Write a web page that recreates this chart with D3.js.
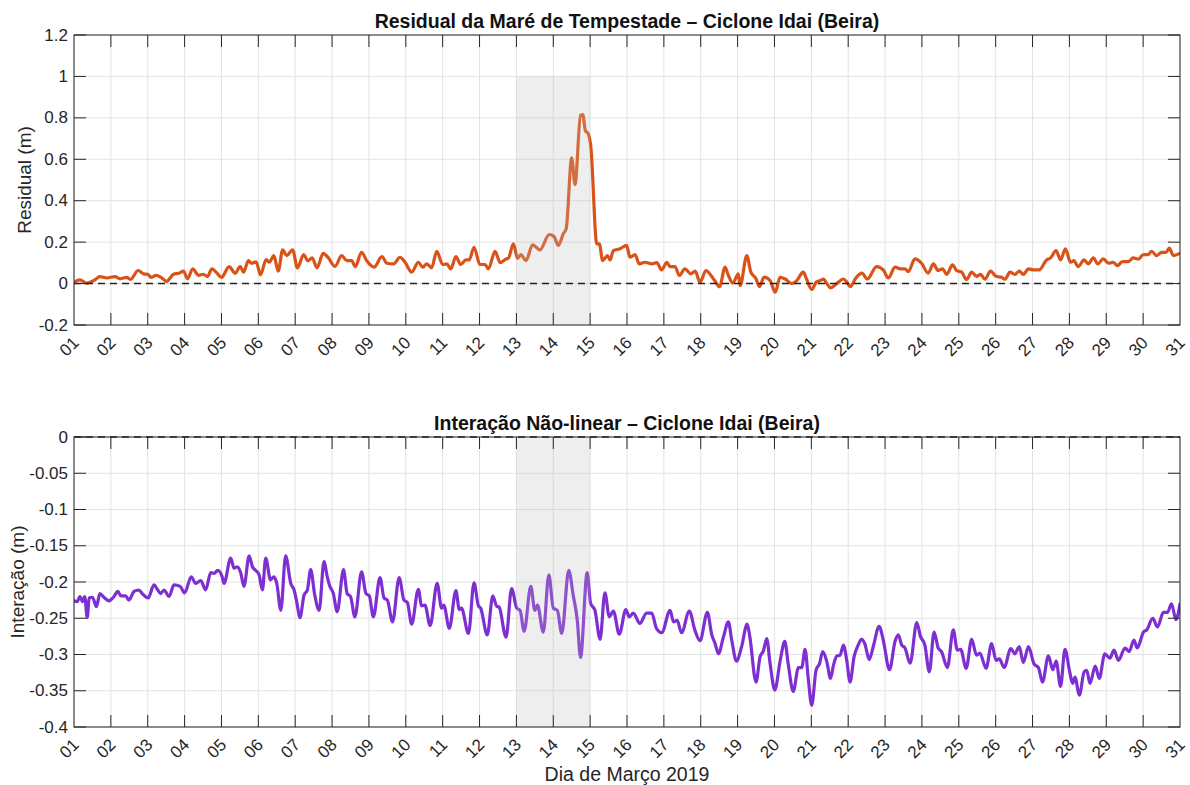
<!DOCTYPE html>
<html>
<head>
<meta charset="utf-8">
<script src="https://cdn.jsdelivr.net/npm/d3@7"></script>
<style>
  html, body { margin: 0; padding: 0; background: #fff; }
  svg { display: block; font-family: "Liberation Sans", Arial, Helvetica, sans-serif; }
</style>
</head>
<body>
<svg id="chart" width="1190" height="785"></svg>
<script>
// Days of March 2019 shown on the x axes
const dayTicks = d3.range(1, 32);
const dayLabels = dayTicks.map(d => String(d).padStart(2, "0"));

// Window of the cyclone landfall (shaded)
const stormWindow = [13, 15];

// Storm-surge residual (m), by day of month
const residDay = [
  1.00, 1.16, 1.34, 1.57, 1.70, 1.89, 2.11, 2.25, 2.43, 2.53, 2.74, 2.89, 3.00, 3.09, 3.23, 3.36,
  3.51, 3.70, 3.84, 3.97, 4.08, 4.22, 4.38, 4.51, 4.62, 4.74, 4.88, 5.00, 5.21, 5.37, 5.51, 5.60,
  5.73, 5.82, 5.94, 6.06, 6.21, 6.30, 6.42, 6.54, 6.66, 6.77, 6.93, 7.06, 7.23, 7.34, 7.46, 7.59,
  7.76, 7.90, 8.08, 8.26, 8.40, 8.53, 8.63, 8.80, 8.94, 9.14, 9.35, 9.49, 9.67, 9.84, 9.98, 10.16,
  10.34, 10.46, 10.57, 10.70, 10.84, 11.00, 11.11, 11.22, 11.36, 11.49, 11.63, 11.72, 11.85, 12.01,
  12.15, 12.24, 12.42, 12.56, 12.72, 12.78, 12.92, 13.03, 13.12, 13.26, 13.44, 13.64, 13.89, 14.02,
  14.14, 14.27, 14.35, 14.50, 14.59, 14.74, 14.80, 14.87, 14.95, 15.02, 15.18, 15.25, 15.34, 15.47,
  15.54, 15.63, 15.81, 15.99, 16.08, 16.22, 16.33, 16.49, 16.67, 16.81, 16.94, 17.08, 17.17, 17.30,
  17.42, 17.57, 17.73, 17.85, 17.98, 18.14, 18.30, 18.39, 18.51, 18.66, 18.75, 18.87, 19.02, 19.07,
  19.25, 19.36, 19.50, 19.59, 19.72, 19.88, 20.02, 20.15, 20.29, 20.47, 20.60, 20.78, 20.87, 21.01,
  21.14, 21.22, 21.33, 21.42, 21.52, 21.69, 21.87, 21.96, 22.05, 22.21, 22.37, 22.52, 22.77, 22.95,
  23.09, 23.27, 23.42, 23.54, 23.63, 23.81, 23.99, 24.17, 24.31, 24.44, 24.56, 24.67, 24.83, 24.94,
  25.08, 25.21, 25.35, 25.48, 25.59, 25.71, 25.86, 26.01, 26.16, 26.25, 26.39, 26.52, 26.64, 26.75,
  26.89, 27.02, 27.18, 27.38, 27.49, 27.64, 27.76, 27.89, 28.03, 28.12, 28.24, 28.40, 28.51, 28.65,
  28.77, 28.92, 29.06, 29.19, 29.30, 29.44, 29.60, 29.73, 29.87, 30.00, 30.14, 30.23, 30.37, 30.50,
  30.62, 30.71, 30.82, 31.00
];
const residVal = [
  0.006, 0.018, 0.002, 0.018, 0.034, 0.027, 0.034, 0.023, 0.030, 0.020, 0.063, 0.047, 0.045, 0.030, 0.040, 0.030,
  0.011, 0.045, 0.050, 0.060, 0.023, 0.071, 0.040, 0.045, 0.034, 0.071, 0.050, 0.030, 0.082, 0.050, 0.082, 0.055,
  0.111, 0.098, 0.105, 0.042, 0.116, 0.103, 0.135, 0.060, 0.163, 0.135, 0.163, 0.076, 0.140, 0.110, 0.124, 0.076,
  0.146, 0.124, 0.083, 0.135, 0.111, 0.111, 0.082, 0.151, 0.110, 0.079, 0.130, 0.098, 0.095, 0.127, 0.103, 0.055,
  0.103, 0.079, 0.095, 0.076, 0.156, 0.092, 0.095, 0.071, 0.130, 0.092, 0.114, 0.114, 0.175, 0.092,
  0.092, 0.071, 0.155, 0.101, 0.119, 0.122, 0.192, 0.122, 0.140, 0.111, 0.187, 0.163, 0.237, 0.227,
  0.184, 0.240, 0.264, 0.607, 0.478, 0.812, 0.816, 0.739, 0.723, 0.659, 0.192, 0.192, 0.111, 0.135,
  0.114, 0.159, 0.168, 0.184, 0.127, 0.140, 0.095, 0.103, 0.095, 0.101, 0.066, 0.103, 0.082, 0.082,
  0.039, 0.071, 0.047, 0.060, 0.006, 0.063, 0.034, 0.011, -0.015, 0.079, 0.039, 0.002, 0.047, -0.010,
  0.135, 0.055, 0.023, -0.015, 0.031, 0.015, -0.042, 0.030, 0.022, 0.000, 0.013, 0.055, 0.022, -0.029,
  0.008, 0.013, 0.021, 0.000, -0.021, 0.000, 0.022, 0.008, -0.015, 0.027, 0.050, 0.022, 0.082, 0.066,
  0.027, 0.079, 0.071, 0.071, 0.058, 0.119, 0.098, 0.050, 0.095, 0.063, 0.071, 0.044, 0.090, 0.063,
  0.055, 0.019, 0.055, 0.035, 0.044, 0.021, 0.060, 0.035, 0.030, 0.021, 0.055, 0.044, 0.060, 0.044,
  0.071, 0.066, 0.066, 0.114, 0.124, 0.159, 0.114, 0.168, 0.103, 0.111, 0.082, 0.114, 0.095, 0.124,
  0.095, 0.119, 0.098, 0.103, 0.087, 0.106, 0.106, 0.124, 0.118, 0.139, 0.140, 0.156, 0.135, 0.151,
  0.151, 0.171, 0.135, 0.146
];

// Non-linear tide-surge interaction (m), by day of month
const interDay = [
  1.00, 1.09, 1.16, 1.23, 1.29, 1.36, 1.41, 1.50, 1.61, 1.70, 1.81, 1.95, 2.07, 2.19, 2.27, 2.40,
  2.49, 2.63, 2.76, 2.85, 3.01, 3.17, 3.26, 3.35, 3.44, 3.58, 3.71, 3.88, 4.00, 4.18, 4.30, 4.44,
  4.57, 4.71, 4.80, 4.90, 5.02, 5.07, 5.25, 5.34, 5.43, 5.52, 5.61, 5.75, 5.84, 5.93, 6.02, 6.11,
  6.20, 6.33, 6.42, 6.50, 6.61, 6.74, 6.88, 6.97, 7.04, 7.13, 7.24, 7.33, 7.42, 7.53, 7.65, 7.78,
  7.87, 7.94, 8.03, 8.14, 8.31, 8.41, 8.50, 8.62, 8.80, 8.92, 9.01, 9.12, 9.30, 9.41, 9.50, 9.64,
  9.82, 9.95, 10.04, 10.16, 10.34, 10.43, 10.52, 10.66, 10.85, 10.97, 11.03, 11.18, 11.36, 11.45, 11.51, 11.70,
  11.85, 11.97, 12.03, 12.21, 12.36, 12.47, 12.52, 12.72, 12.87, 13.01, 13.10, 13.21, 13.39, 13.50, 13.57, 13.73,
  13.88, 14.00, 14.11, 14.23, 14.42, 14.54, 14.65, 14.74, 14.92, 15.01, 15.13, 15.27, 15.40, 15.52, 15.63, 15.79,
  15.97, 16.06, 16.17, 16.35, 16.53, 16.67, 16.80, 16.94, 17.17, 17.26, 17.36, 17.48, 17.69, 17.84, 17.98, 18.18,
  18.30, 18.39, 18.48, 18.61, 18.75, 18.84, 18.97, 19.11, 19.26, 19.33, 19.50, 19.61, 19.70, 19.79, 19.88, 20.01,
  20.15, 20.28, 20.37, 20.51, 20.65, 20.74, 20.83, 20.92, 21.01, 21.13, 21.22, 21.31, 21.42, 21.52, 21.60, 21.69,
  21.78, 21.87, 21.96, 22.05, 22.16, 22.27, 22.36, 22.45, 22.57, 22.68, 22.84, 22.95, 23.12, 23.27, 23.36, 23.45,
  23.54, 23.68, 23.86, 23.96, 24.08, 24.20, 24.33, 24.44, 24.53, 24.69, 24.85, 24.96, 25.05, 25.20, 25.35, 25.48,
  25.57, 25.74, 25.89, 26.01, 26.10, 26.23, 26.41, 26.52, 26.64, 26.75, 26.89, 27.04, 27.16, 27.27, 27.43, 27.55,
  27.64, 27.76, 27.88, 28.00, 28.09, 28.15, 28.27, 28.40, 28.47, 28.56, 28.70, 28.81, 28.96, 29.10, 29.21, 29.33,
  29.51, 29.62, 29.75, 29.84, 30.01, 30.10, 30.26, 30.39, 30.55, 30.66, 30.77, 30.89, 31.00
];
const interVal = [
  -0.226, -0.227, -0.220, -0.227, -0.220, -0.249, -0.222, -0.221, -0.234, -0.216, -0.221, -0.226, -0.221, -0.213, -0.219, -0.219,
  -0.225, -0.213, -0.211, -0.216, -0.222, -0.204, -0.210, -0.216, -0.211, -0.220, -0.204, -0.206, -0.215, -0.193, -0.202, -0.198,
  -0.211, -0.187, -0.188, -0.184, -0.193, -0.202, -0.167, -0.181, -0.179, -0.187, -0.206, -0.164, -0.179, -0.184, -0.190, -0.211,
  -0.167, -0.197, -0.193, -0.202, -0.239, -0.164, -0.202, -0.211, -0.227, -0.249, -0.218, -0.211, -0.183, -0.218, -0.239, -0.172,
  -0.193, -0.206, -0.215, -0.241, -0.183, -0.216, -0.220, -0.248, -0.186, -0.216, -0.219, -0.248, -0.194, -0.222, -0.225, -0.255,
  -0.194, -0.225, -0.228, -0.258, -0.210, -0.233, -0.232, -0.260, -0.202, -0.236, -0.232, -0.264, -0.212, -0.238, -0.236, -0.271,
  -0.201, -0.233, -0.236, -0.273, -0.219, -0.234, -0.234, -0.276, -0.209, -0.236, -0.239, -0.268, -0.206, -0.239, -0.232, -0.269,
  -0.190, -0.236, -0.239, -0.271, -0.184, -0.218, -0.252, -0.304, -0.187, -0.229, -0.239, -0.279, -0.215, -0.248, -0.240, -0.272,
  -0.238, -0.248, -0.243, -0.257, -0.243, -0.243, -0.264, -0.270, -0.239, -0.255, -0.253, -0.270, -0.240, -0.266, -0.281, -0.242,
  -0.273, -0.285, -0.299, -0.277, -0.255, -0.280, -0.309, -0.289, -0.258, -0.275, -0.338, -0.303, -0.295, -0.278, -0.312, -0.349,
  -0.310, -0.282, -0.312, -0.351, -0.318, -0.318, -0.293, -0.335, -0.370, -0.321, -0.313, -0.296, -0.310, -0.333, -0.315, -0.302,
  -0.301, -0.287, -0.308, -0.338, -0.303, -0.287, -0.279, -0.285, -0.307, -0.289, -0.261, -0.280, -0.321, -0.282, -0.273, -0.287,
  -0.291, -0.312, -0.256, -0.275, -0.287, -0.324, -0.269, -0.291, -0.296, -0.318, -0.266, -0.294, -0.293, -0.319, -0.279, -0.301,
  -0.298, -0.319, -0.285, -0.308, -0.306, -0.318, -0.292, -0.299, -0.289, -0.311, -0.289, -0.313, -0.318, -0.338, -0.302, -0.321,
  -0.309, -0.344, -0.293, -0.322, -0.340, -0.331, -0.356, -0.324, -0.322, -0.340, -0.316, -0.333, -0.299, -0.305, -0.294, -0.308,
  -0.291, -0.296, -0.280, -0.291, -0.269, -0.266, -0.250, -0.262, -0.242, -0.242, -0.230, -0.252, -0.230
];

// Y tick values of each panel
const residTicks = [-0.2, 0, 0.2, 0.4, 0.6, 0.8, 1, 1.2];
const interTicks = [-0.4, -0.35, -0.3, -0.25, -0.2, -0.15, -0.1, -0.05, 0];

const svg = d3.select("#chart");
const left = 74, right = 1180;
const tickLen = 12;
const axisColor = "#262626";
const fmt = v => String(+v.toFixed(2));

const x = d3.scaleLinear().domain([1, 31]).range([left, right]);

function panel(cfg) {
  const y = d3.scaleLinear().domain(cfg.domain).range([cfg.bottom, cfg.top]);
  const g = svg.append("g");
  const clipId = "clip-" + cfg.id;
  svg.append("clipPath").attr("id", clipId)
    .append("rect").attr("x", left).attr("y", cfg.top)
    .attr("width", right - left).attr("height", cfg.bottom - cfg.top);

  // grid
  g.append("g").selectAll("line").data(dayTicks).join("line")
    .attr("x1", d => x(d)).attr("x2", d => x(d))
    .attr("y1", cfg.top).attr("y2", cfg.bottom)
    .attr("stroke", "#e3e3e3").attr("stroke-width", 1);
  g.append("g").selectAll("line").data(cfg.ticks).join("line")
    .attr("x1", left).attr("x2", right)
    .attr("y1", d => y(d)).attr("y2", d => y(d))
    .attr("stroke", "#e3e3e3").attr("stroke-width", 1);

  // data line
  const line = d3.line().x(d => x(d[0])).y(d => y(d[1])).curve(d3.curveMonotoneX);
  g.append("path")
    .datum(d3.zip(cfg.days, cfg.vals))
    .attr("clip-path", `url(#${clipId})`)
    .attr("d", line)
    .attr("fill", "none")
    .attr("stroke", cfg.color)
    .attr("stroke-width", 3.2)
    .attr("stroke-linejoin", "round")
    .attr("stroke-linecap", "round");

  // shaded landfall window
  g.append("rect")
    .attr("x", x(stormWindow[0]))
    .attr("width", x(stormWindow[1]) - x(stormWindow[0]))
    .attr("y", y(cfg.shade[1]))
    .attr("height", y(cfg.shade[0]) - y(cfg.shade[1]))
    .attr("fill", "#bdbdbd").attr("fill-opacity", 0.25);

  // box
  g.append("rect")
    .attr("x", left).attr("y", cfg.top)
    .attr("width", right - left).attr("height", cfg.bottom - cfg.top)
    .attr("fill", "none").attr("stroke", axisColor).attr("stroke-width", 1);

  // zero reference
  g.append("line")
    .attr("x1", left).attr("x2", right)
    .attr("y1", y(0)).attr("y2", y(0))
    .attr("stroke", "#222").attr("stroke-width", 1.5)
    .attr("stroke-dasharray", "7,5");

  // inward ticks (all four sides)
  const tk = g.append("g").attr("stroke", axisColor).attr("stroke-width", 1);
  tk.selectAll(".xb").data(dayTicks.slice(1, -1)).join("line")
    .attr("x1", d => x(d)).attr("x2", d => x(d))
    .attr("y1", cfg.bottom).attr("y2", cfg.bottom - tickLen);
  tk.selectAll(".xt").data(dayTicks.slice(1, -1)).join("line")
    .attr("x1", d => x(d)).attr("x2", d => x(d))
    .attr("y1", cfg.top).attr("y2", cfg.top + tickLen);
  tk.selectAll(".yl").data(cfg.ticks).join("line")
    .attr("x1", left).attr("x2", left + tickLen)
    .attr("y1", d => y(d)).attr("y2", d => y(d));
  tk.selectAll(".yr").data(cfg.ticks).join("line")
    .attr("x1", right).attr("x2", right - tickLen)
    .attr("y1", d => y(d)).attr("y2", d => y(d));

  // y tick labels
  g.append("g").selectAll("text").data(cfg.ticks).join("text")
    .attr("x", left - 6).attr("y", d => y(d))
    .attr("text-anchor", "end").attr("dominant-baseline", "central")
    .attr("font-size", 17).attr("fill", axisColor)
    .text(fmt);

  // x tick labels, rotated
  g.append("g").selectAll("text").data(dayTicks).join("text")
    .attr("transform", d => `translate(${x(d) + 2},${cfg.bottom + 15}) rotate(-45)`)
    .attr("text-anchor", "end").attr("dominant-baseline", "central")
    .attr("font-size", 17).attr("fill", axisColor)
    .text((d, i) => dayLabels[i]);

  // title
  svg.append("text")
    .attr("x", (left + right) / 2).attr("y", cfg.top - 7)
    .attr("text-anchor", "middle")
    .attr("font-size", 19.5).attr("font-weight", "bold").attr("fill", "#111")
    .text(cfg.title);

  // y label
  svg.append("text")
    .attr("transform", `translate(${cfg.ylabX},${(cfg.top + cfg.bottom) / 2}) rotate(-90)`)
    .attr("text-anchor", "middle").attr("dominant-baseline", "central")
    .attr("font-size", 19).attr("fill", axisColor)
    .text(cfg.ylabel);
}

panel({
  id: "resid", top: 35, bottom: 325, domain: [-0.2, 1.2], ticks: residTicks,
  days: residDay, vals: residVal, color: "#d95319", shade: [-0.2, 1],
  title: "Residual da Maré de Tempestade – Ciclone Idai (Beira)",
  ylabel: "Residual (m)", ylabX: 24
});

panel({
  id: "inter", top: 437, bottom: 727, domain: [-0.4, 0], ticks: interTicks,
  days: interDay, vals: interVal, color: "#7e2fd2", shade: [-0.4, 0],
  title: "Interação Não-linear – Ciclone Idai (Beira)",
  ylabel: "Interação (m)", ylabX: 17
});

svg.append("text")
  .attr("x", (left + right) / 2).attr("y", 774)
  .attr("text-anchor", "middle").attr("dominant-baseline", "central")
  .attr("font-size", 19.5).attr("fill", axisColor)
  .text("Dia de Março 2019");
</script>
</body>
</html>
